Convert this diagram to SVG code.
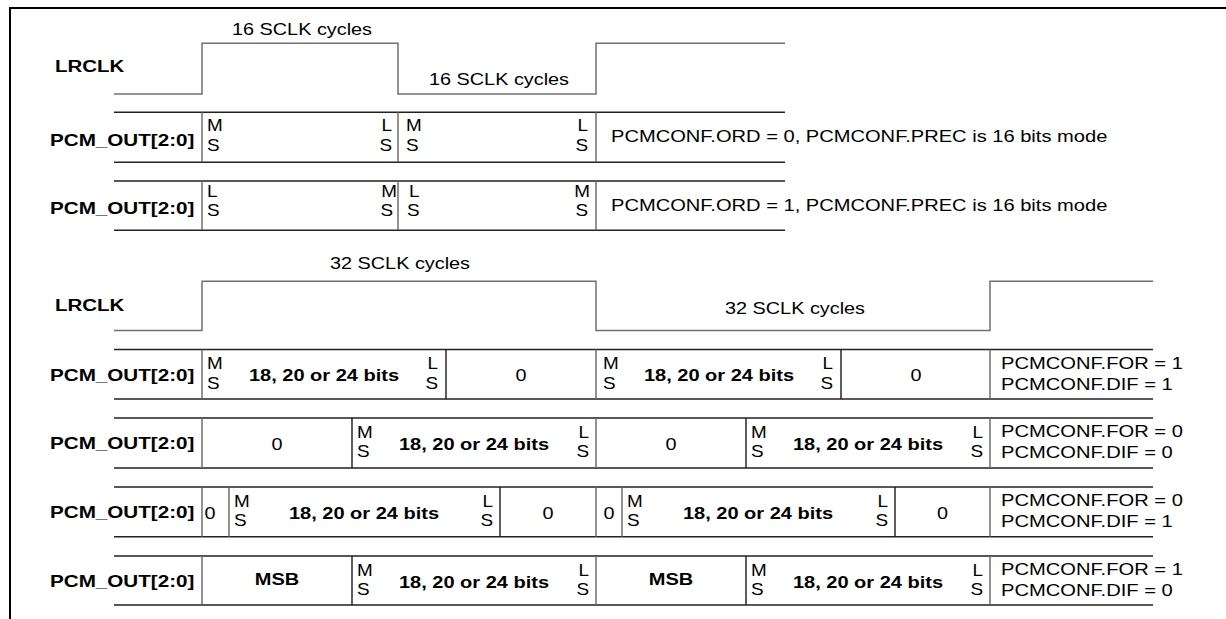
<svg xmlns="http://www.w3.org/2000/svg" width="1226" height="619" viewBox="0 0 1226 619">
<style>
text{font-family:"Liberation Sans",Arial,sans-serif;fill:#000}
.lbl{font-size:16px;font-weight:bold}
.t{font-size:16px}
.b{font-size:16px;font-weight:bold}
.ms{font-size:16px}
.m{text-anchor:middle}
.e{text-anchor:end}
.frame{stroke:#000;stroke-width:2;fill:none}
.clk{stroke:#707070;stroke-width:1.5;fill:none}
.h{stroke:#222;stroke-width:1.5;fill:none}
.v{stroke:#1a1a1a;stroke-width:1.4;fill:none}
.vg{stroke:#666;stroke-width:1.4;fill:none}
</style>
<rect width="1226" height="619" fill="#fff"/>
<path class="frame" d="M10,619 V8 H1226"/>

<g id="top-section">
  <g id="lrclk-16">
    <path class="clk" d="M114,94 H202 V43.3 H398 V94 H596 V43.3 H785"/>
    <text class="lbl" transform="matrix(1.28 0 0 1 55 72)">LRCLK</text>
    <text class="t" transform="matrix(1.24 0 0 1 232 34.5)">16 SCLK cycles</text>
    <text class="t" transform="matrix(1.24 0 0 1 429 84.5)">16 SCLK cycles</text>
  </g>
  <g id="pcm-ord0">
    <path class="h" d="M114,112.3 H785 M114,162.3 H785"/>
    <path class="vg" d="M202,112.3 V162.3 M398,112.3 V162.3 M596,112.3 V162.3"/>
    <text class="lbl" transform="matrix(1.29 0 0 1 50 145.5)">PCM_OUT[2:0]</text>
    <text class="ms" transform="matrix(1.18 0 0 1 207 130.5)">M</text>
    <text class="ms" transform="matrix(1.18 0 0 1 207 150.5)">S</text>
    <text class="ms e" transform="matrix(1.18 0 0 1 392 130.5)">L</text>
    <text class="ms e" transform="matrix(1.18 0 0 1 392 150.5)">S</text>
    <text class="ms" transform="matrix(1.18 0 0 1 406 130.5)">M</text>
    <text class="ms" transform="matrix(1.18 0 0 1 406 150.5)">S</text>
    <text class="ms e" transform="matrix(1.18 0 0 1 588 130.5)">L</text>
    <text class="ms e" transform="matrix(1.18 0 0 1 588 150.5)">S</text>
    <text class="t" transform="matrix(1.257 0 0 1 611 141.5)">PCMCONF.ORD = 0, PCMCONF.PREC is 16 bits mode</text>
  </g>
  <g id="pcm-ord1">
    <path class="h" d="M114,181 H785 M114,230.3 H785"/>
    <path class="vg" d="M202,181 V230.3 M398,181 V230.3 M596,181 V230.3"/>
    <text class="lbl" transform="matrix(1.29 0 0 1 50 214)">PCM_OUT[2:0]</text>
    <text class="ms" transform="matrix(1.18 0 0 1 207 197)">L</text>
    <text class="ms" transform="matrix(1.18 0 0 1 207 216)">S</text>
    <text class="ms e" transform="matrix(1.18 0 0 1 397 197)">M</text>
    <text class="ms e" transform="matrix(1.18 0 0 1 393 216)">S</text>
    <text class="ms" transform="matrix(1.18 0 0 1 409 197)">L</text>
    <text class="ms" transform="matrix(1.18 0 0 1 407 216)">S</text>
    <text class="ms e" transform="matrix(1.18 0 0 1 590 197)">M</text>
    <text class="ms e" transform="matrix(1.18 0 0 1 588 216)">S</text>
    <text class="t" transform="matrix(1.257 0 0 1 611 210.5)">PCMCONF.ORD = 1, PCMCONF.PREC is 16 bits mode</text>
  </g>
</g>

<g id="bottom-section">
  <g id="lrclk-32">
    <path class="clk" d="M114,330.5 H202 V281.3 H596 V330.5 H990 V281.3 H1153"/>
    <text class="lbl" transform="matrix(1.28 0 0 1 55 310.5)">LRCLK</text>
    <text class="t" transform="matrix(1.24 0 0 1 330 269)">32 SCLK cycles</text>
    <text class="t" transform="matrix(1.24 0 0 1 725 314)">32 SCLK cycles</text>
  </g>

  <g id="pcm-for1-dif1">
    <path class="h" d="M114,349.5 H1153 M114,399 H1153"/>
    <path class="vg" d="M202,349.5 V399 M596,349.5 V399 M990,349.5 V399"/>
    <path class="v" d="M446,349.5 V399 M841,349.5 V399"/>
    <text class="lbl" transform="matrix(1.29 0 0 1 50 380.5)">PCM_OUT[2:0]</text>
    <text class="ms" transform="matrix(1.18 0 0 1 207 369)">M</text>
    <text class="ms" transform="matrix(1.18 0 0 1 207 388.5)">S</text>
    <text class="b m" transform="matrix(1.25 0 0 1 324 381)">18, 20 or 24 bits</text>
    <text class="ms e" transform="matrix(1.18 0 0 1 438 369)">L</text>
    <text class="ms e" transform="matrix(1.18 0 0 1 438 388.5)">S</text>
    <text class="t m" transform="matrix(1.24 0 0 1 521 381)">0</text>
    <text class="ms" transform="matrix(1.18 0 0 1 603 369)">M</text>
    <text class="ms" transform="matrix(1.18 0 0 1 603 388.5)">S</text>
    <text class="b m" transform="matrix(1.25 0 0 1 719 381)">18, 20 or 24 bits</text>
    <text class="ms e" transform="matrix(1.18 0 0 1 833 369)">L</text>
    <text class="ms e" transform="matrix(1.18 0 0 1 833 388.5)">S</text>
    <text class="t m" transform="matrix(1.24 0 0 1 916 381)">0</text>
    <text class="t" transform="matrix(1.26 0 0 1 1001 368.5)">PCMCONF.FOR = 1</text>
    <text class="t" transform="matrix(1.26 0 0 1 1001 389.5)">PCMCONF.DIF = 1</text>
  </g>

  <g id="pcm-for0-dif0">
    <path class="h" d="M114,418 H1153 M114,468 H1153"/>
    <path class="vg" d="M202,418 V468 M596,418 V468 M990,418 V468"/>
    <path class="v" d="M352,418 V468 M746,418 V468"/>
    <text class="lbl" transform="matrix(1.29 0 0 1 50 449)">PCM_OUT[2:0]</text>
    <text class="t m" transform="matrix(1.24 0 0 1 277 449.5)">0</text>
    <text class="ms" transform="matrix(1.18 0 0 1 357 437.5)">M</text>
    <text class="ms" transform="matrix(1.18 0 0 1 357 457)">S</text>
    <text class="b m" transform="matrix(1.25 0 0 1 474 449.5)">18, 20 or 24 bits</text>
    <text class="ms e" transform="matrix(1.18 0 0 1 589 437.5)">L</text>
    <text class="ms e" transform="matrix(1.18 0 0 1 589 457)">S</text>
    <text class="t m" transform="matrix(1.24 0 0 1 671 449.5)">0</text>
    <text class="ms" transform="matrix(1.18 0 0 1 751 437.5)">M</text>
    <text class="ms" transform="matrix(1.18 0 0 1 751 457)">S</text>
    <text class="b m" transform="matrix(1.25 0 0 1 868 449.5)">18, 20 or 24 bits</text>
    <text class="ms e" transform="matrix(1.18 0 0 1 983 437.5)">L</text>
    <text class="ms e" transform="matrix(1.18 0 0 1 983 457)">S</text>
    <text class="t" transform="matrix(1.26 0 0 1 1001 437)">PCMCONF.FOR = 0</text>
    <text class="t" transform="matrix(1.26 0 0 1 1001 458)">PCMCONF.DIF = 0</text>
  </g>

  <g id="pcm-for0-dif1">
    <path class="h" d="M114,487 H1153 M114,536.7 H1153"/>
    <path class="vg" d="M202,487 V536.7 M229,487 V536.7 M596,487 V536.7 M622,487 V536.7 M990,487 V536.7"/>
    <path class="v" d="M500,487 V536.7 M895,487 V536.7"/>
    <text class="lbl" transform="matrix(1.29 0 0 1 50 518)">PCM_OUT[2:0]</text>
    <text class="t m" transform="matrix(1.24 0 0 1 210 518.5)">0</text>
    <text class="ms" transform="matrix(1.18 0 0 1 234 506.5)">M</text>
    <text class="ms" transform="matrix(1.18 0 0 1 234 526)">S</text>
    <text class="b m" transform="matrix(1.25 0 0 1 364 518.5)">18, 20 or 24 bits</text>
    <text class="ms e" transform="matrix(1.18 0 0 1 493 506.5)">L</text>
    <text class="ms e" transform="matrix(1.18 0 0 1 493 526)">S</text>
    <text class="t m" transform="matrix(1.24 0 0 1 548 518.5)">0</text>
    <text class="t m" transform="matrix(1.24 0 0 1 609 518.5)">0</text>
    <text class="ms" transform="matrix(1.18 0 0 1 627 506.5)">M</text>
    <text class="ms" transform="matrix(1.18 0 0 1 627 526)">S</text>
    <text class="b m" transform="matrix(1.25 0 0 1 758 518.5)">18, 20 or 24 bits</text>
    <text class="ms e" transform="matrix(1.18 0 0 1 888 506.5)">L</text>
    <text class="ms e" transform="matrix(1.18 0 0 1 888 526)">S</text>
    <text class="t m" transform="matrix(1.24 0 0 1 942.5 518.5)">0</text>
    <text class="t" transform="matrix(1.26 0 0 1 1001 506)">PCMCONF.FOR = 0</text>
    <text class="t" transform="matrix(1.26 0 0 1 1001 527)">PCMCONF.DIF = 1</text>
  </g>

  <g id="pcm-for1-dif0">
    <path class="h" d="M114,556 H1153 M114,605 H1153"/>
    <path class="vg" d="M202,556 V605 M596,556 V605 M990,556 V605"/>
    <path class="v" d="M352,556 V605 M746,556 V605"/>
    <text class="lbl" transform="matrix(1.29 0 0 1 50 587)">PCM_OUT[2:0]</text>
    <text class="b m" transform="matrix(1.25 0 0 1 277 584.5)">MSB</text>
    <text class="ms" transform="matrix(1.18 0 0 1 357 575.5)">M</text>
    <text class="ms" transform="matrix(1.18 0 0 1 357 595)">S</text>
    <text class="b m" transform="matrix(1.25 0 0 1 474 587.5)">18, 20 or 24 bits</text>
    <text class="ms e" transform="matrix(1.18 0 0 1 589 575.5)">L</text>
    <text class="ms e" transform="matrix(1.18 0 0 1 589 595)">S</text>
    <text class="b m" transform="matrix(1.25 0 0 1 671 584.5)">MSB</text>
    <text class="ms" transform="matrix(1.18 0 0 1 751 575.5)">M</text>
    <text class="ms" transform="matrix(1.18 0 0 1 751 595)">S</text>
    <text class="b m" transform="matrix(1.25 0 0 1 868 587.5)">18, 20 or 24 bits</text>
    <text class="ms e" transform="matrix(1.18 0 0 1 983 575.5)">L</text>
    <text class="ms e" transform="matrix(1.18 0 0 1 983 595)">S</text>
    <text class="t" transform="matrix(1.26 0 0 1 1001 575)">PCMCONF.FOR = 1</text>
    <text class="t" transform="matrix(1.26 0 0 1 1001 596)">PCMCONF.DIF = 0</text>
  </g>
</g>
</svg>
